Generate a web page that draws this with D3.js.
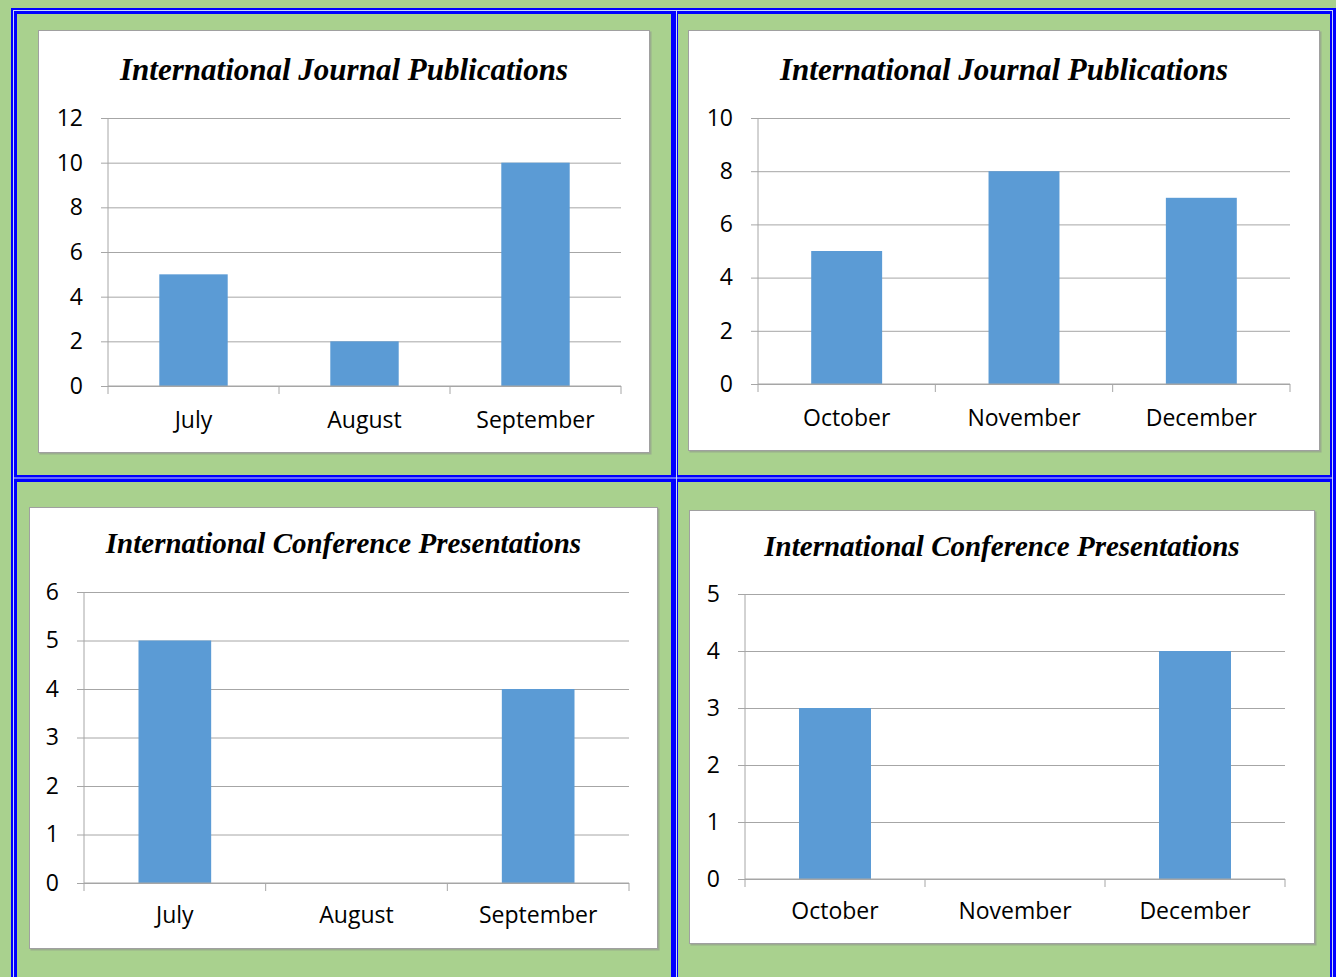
<!DOCTYPE html>
<html>
<head>
<meta charset="utf-8">
<script src="https://cdn.jsdelivr.net/npm/d3@7"></script>
<style>
  body { margin: 0; background: #a9d18e; }
  svg { display: block; }
  .tick text { font-family: "Open Sans", sans-serif; font-size: 23px; fill: #000; }
  .title { font-family: "Liberation Serif", serif; font-weight: bold; font-style: italic; fill: #000; }
</style>
</head>
<body>
<div id="chart"></div>
<script>
// data
const monthsQ3 = ["July", "August", "September"];
const monthsQ4 = ["October", "November", "December"];
const journalQ3 = [5, 2, 10];
const journalQ4 = [5, 8, 7];
const conferenceQ3 = [5, 0, 4];
const conferenceQ4 = [3, 0, 4];
const journalTitle = "International Journal Publications";
const conferenceTitle = "International Conference Presentations";
const ticksJ3 = [0, 2, 4, 6, 8, 10, 12];
const ticksJ4 = [0, 2, 4, 6, 8, 10];
const ticksC3 = [0, 1, 2, 3, 4, 5, 6];
const ticksC4 = [0, 1, 2, 3, 4, 5];

// layout of the four panels
const panels = [
  {title: journalTitle, cats: monthsQ3, vals: journalQ3, ticks: ticksJ3, fs: 31,
   box: [38, 30, 650, 453], px: [108, 621], py: [118, 386], ty: 80, ly: 428},
  {title: journalTitle, cats: monthsQ4, vals: journalQ4, ticks: ticksJ4, fs: 31,
   box: [688, 30, 1320, 451], px: [758, 1290], py: [118, 384], ty: 80, ly: 426},
  {title: conferenceTitle, cats: monthsQ3, vals: conferenceQ3, ticks: ticksC3, fs: 29,
   box: [29, 507, 658, 949], px: [84, 629], py: [592, 883], ty: 553, ly: 923},
  {title: conferenceTitle, cats: monthsQ4, vals: conferenceQ4, ticks: ticksC4, fs: 29,
   box: [689, 510, 1315, 944], px: [745, 1285], py: [594, 879], ty: 556, ly: 919}
];

const W = 1336, H = 977;
const svg = d3.select("#chart").append("svg")
              .attr("width", W)
              .attr("height", H);

svg.append("rect").attr("width", W).attr("height", H).attr("fill", "#a9d18e");

// double blue table borders
const blue = "#0000ff", light = "#c9d9f5";
const vBorders = [[11, 17, 13.5], [671, 678, 676.5], [1330, 1336, 1332.5]];
const hBorders = [[8, 14, 10.5], [475, 482, 478]];
hBorders.forEach(b => {
  svg.append("rect").attr("x", 11).attr("y", b[0]).attr("width", W - 11).attr("height", b[1] - b[0]).attr("fill", blue);
});
vBorders.forEach(b => {
  svg.append("rect").attr("x", b[0]).attr("y", 8).attr("width", b[1] - b[0]).attr("height", H).attr("fill", blue);
});
hBorders.forEach(b => {
  svg.append("line").attr("x1", 13).attr("x2", W - 3).attr("y1", b[2]).attr("y2", b[2])
     .attr("stroke", light).attr("stroke-width", 1);
});
vBorders.forEach(b => {
  svg.append("line").attr("x1", b[2]).attr("x2", b[2]).attr("y1", 10).attr("y2", H)
     .attr("stroke", light).attr("stroke-width", 1);
});

const grid = "#a6a6a6";

panels.forEach(p => {
  const g = svg.append("g");
  const [bx0, by0, bx1, by1] = p.box;

  // chart area with a faint shadow
  g.append("rect")
   .attr("x", bx0 + 1.5).attr("y", by0 + 1.5)
   .attr("width", bx1 - bx0).attr("height", by1 - by0)
   .attr("fill", "#8c8c8c").attr("opacity", 0.5);
  g.append("rect")
   .attr("x", bx0 + 0.5).attr("y", by0 + 0.5)
   .attr("width", bx1 - bx0 - 1).attr("height", by1 - by0 - 1)
   .attr("fill", "#fff").attr("stroke", "#a0a0a0").attr("stroke-width", 1);

  g.append("text")
   .attr("class", "title")
   .attr("x", (bx0 + bx1) / 2)
   .attr("y", p.ty)
   .attr("text-anchor", "middle")
   .style("font-size", p.fs + "px")
   .text(p.title);

  const xScale = d3.scaleBand()
                   .domain(p.cats)
                   .range(p.px)
                   .paddingInner(0.6)
                   .paddingOuter(0.3);

  const yScale = d3.scaleLinear()
                   .domain([0, d3.max(p.ticks)])
                   .range([p.py[1], p.py[0]]);

  const w = p.px[1] - p.px[0];

  // y axis with gridlines
  g.append("g")
   .attr("transform", "translate(" + p.px[0] + ",0)")
   .call(d3.axisLeft(yScale).tickValues(p.ticks).tickFormat(d3.format("d"))
           .tickSize(0).tickPadding(25))
   .call(a => a.select(".domain").remove())
   .call(a => a.selectAll(".tick line")
               .attr("x1", -7).attr("x2", w)
               .attr("stroke", grid).attr("stroke-width", 1));

  g.append("line")
   .attr("x1", p.px[0]).attr("x2", p.px[0])
   .attr("y1", yScale(d3.max(p.ticks))).attr("y2", yScale(0))
   .attr("stroke", grid);

  // bars
  g.selectAll("rect.bar")
   .data(p.vals.map((v, i) => ({cat: p.cats[i], v: v})).filter(d => d.v > 0))
   .enter()
   .append("rect")
   .attr("class", "bar")
   .attr("x", d => xScale(d.cat))
   .attr("width", xScale.bandwidth())
   .attr("y", d => yScale(d.v))
   .attr("height", d => yScale(0) - yScale(d.v))
   .attr("fill", "#5b9bd5");

  // x axis: line at zero, ticks on category boundaries
  g.append("line")
   .attr("x1", p.px[0]).attr("x2", p.px[1])
   .attr("y1", yScale(0)).attr("y2", yScale(0))
   .attr("stroke", grid);

  const step = w / p.cats.length;
  g.selectAll("line.xtick")
   .data(d3.range(p.cats.length + 1))
   .enter()
   .append("line")
   .attr("class", "xtick")
   .attr("x1", i => p.px[0] + i * step).attr("x2", i => p.px[0] + i * step)
   .attr("y1", yScale(0)).attr("y2", yScale(0) + 8)
   .attr("stroke", grid);

  g.selectAll("text.xlab")
   .data(p.cats)
   .enter()
   .append("text")
   .attr("class", "xlab")
   .attr("x", d => xScale(d) + xScale.bandwidth() / 2)
   .attr("y", p.ly)
   .attr("text-anchor", "middle")
   .style("font-family", "'Open Sans', sans-serif")
   .style("font-size", "23px")
   .text(d => d);
});
</script>
</body>
</html>
